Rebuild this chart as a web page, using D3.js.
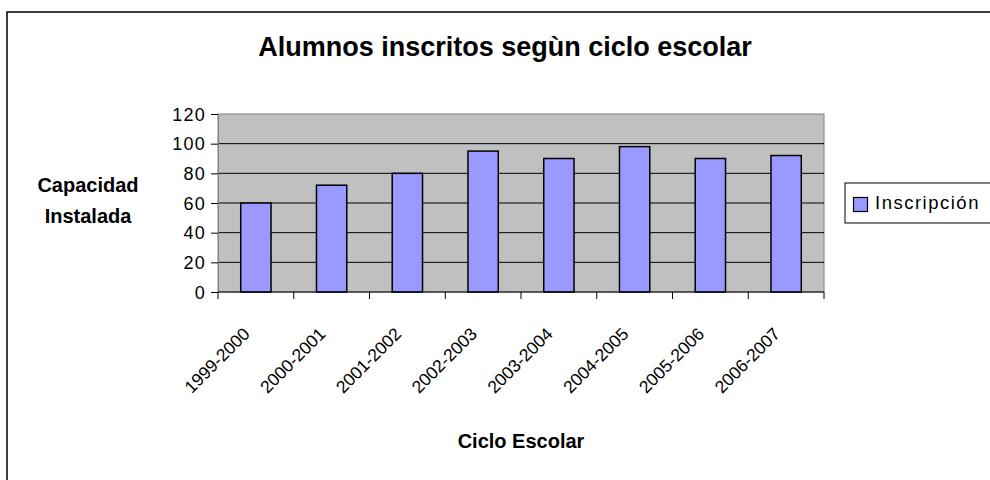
<!DOCTYPE html>
<html>
<head>
<meta charset="utf-8">
<script src="https://cdnjs.cloudflare.com/ajax/libs/d3/7.8.5/d3.min.js"></script>
<style>
    body { margin: 0; background: #fff; }
    text { font-family: "Liberation Sans", Arial, sans-serif; fill: #000; }
</style>
</head>
<body>
<div id="chart"></div>
<script>

var ciclos = ["1999-2000", "2000-2001", "2001-2002", "2002-2003", "2003-2004", "2004-2005", "2005-2006", "2006-2007"];
var inscripcion = [60, 72, 80, 95, 90, 98, 90, 92];
var yTicks = [0, 20, 40, 60, 80, 100, 120];
var titulo = "Alumnos inscritos segùn ciclo escolar";
var serieNombre = "Inscripción";

function drawChart(width, height) {

    var plot = { left: 218, right: 824, top: 114, bottom: 292 };

    var svg = d3.select("#chart").append("svg")
        .attr("width", width)
        .attr("height", height);

    // marco exterior (se sale por la derecha y por abajo)
    svg.append("rect")
        .attr("x", 7).attr("y", 12)
        .attr("width", width + 20).attr("height", height + 20)
        .attr("fill", "none")
        .attr("stroke", "#000")
        .attr("stroke-width", 1.5);

    var x = d3.scaleBand()
        .domain(ciclos)
        .range([plot.left, plot.right])
        .paddingInner(0.6)
        .paddingOuter(0.3);

    var y = d3.scaleLinear()
        .domain([0, 120])
        .range([plot.bottom, plot.top]);

    svg.append("rect")
        .attr("x", plot.left).attr("y", plot.top)
        .attr("width", plot.right - plot.left)
        .attr("height", plot.bottom - plot.top)
        .attr("fill", "#c0c0c0")
        .attr("stroke", "#808080")
        .attr("stroke-width", 1);

    // lineas de division
    svg.selectAll(".grid")
        .data(yTicks.filter(function (d) { return d > 0 && d < 120; }))
        .enter().append("line")
        .attr("class", "grid")
        .attr("x1", plot.left).attr("x2", plot.right)
        .attr("y1", function (d) { return y(d); })
        .attr("y2", function (d) { return y(d); })
        .attr("stroke", "#000")
        .attr("stroke-width", 1);

    svg.selectAll(".bar")
        .data(inscripcion)
        .enter().append("rect")
        .attr("class", "bar")
        .attr("x", function (d, i) { return x(ciclos[i]); })
        .attr("y", function (d) { return y(d); })
        .attr("width", x.bandwidth())
        .attr("height", function (d) { return y(0) - y(d); })
        .attr("fill", "#9999ff")
        .attr("stroke", "#000")
        .attr("stroke-width", 1.5);

    // eje Y
    var yAxis = svg.append("g")
        .attr("transform", "translate(" + plot.left + ",0)")
        .call(d3.axisLeft(y).tickValues(yTicks).tickSize(7).tickPadding(6));
    yAxis.select(".domain").attr("stroke", "#808080");
    yAxis.selectAll(".tick line").attr("stroke", "#000");
    yAxis.selectAll(".tick text")
        .style("font-size", "18px")
        .style("letter-spacing", "1.2px")
        .attr("x", -12)
        .attr("dy", "0.35em");

    // eje X: marcas en los limites de cada categoria
    var step = x.step();
    var bounds = ciclos.map(function (c) { return x(c) - x.paddingOuter() * step; });
    bounds.push(plot.right);

    svg.append("line")
        .attr("x1", plot.left).attr("x2", plot.right)
        .attr("y1", plot.bottom).attr("y2", plot.bottom)
        .attr("stroke", "#000").attr("stroke-width", 1.2);

    svg.selectAll(".xtick")
        .data(bounds)
        .enter().append("line")
        .attr("class", "xtick")
        .attr("x1", function (d) { return d; })
        .attr("x2", function (d) { return d; })
        .attr("y1", plot.bottom).attr("y2", plot.bottom + 7)
        .attr("stroke", "#000");

    svg.selectAll(".xlabel")
        .data(ciclos)
        .enter().append("text")
        .attr("class", "xlabel")
        .attr("text-anchor", "end")
        .style("font-size", "17.5px")
        .attr("transform", function (d) {
            var cx = x(d) + x.bandwidth() / 2;
            return "translate(" + (cx - 5) + "," + 335 + ") rotate(-45)";
        })
        .text(function (d) { return d; });

    // titulos
    svg.append("text")
        .attr("x", 505).attr("y", 56)
        .attr("text-anchor", "middle")
        .style("font-size", "27px")
        .style("font-weight", "bold")
        .text(titulo);

    svg.append("text")
        .attr("x", (plot.left + plot.right) / 2).attr("y", 448)
        .attr("text-anchor", "middle")
        .style("font-size", "20px")
        .style("font-weight", "bold")
        .text("Ciclo Escolar");

    var yTitle = svg.append("text")
        .attr("text-anchor", "middle")
        .style("font-size", "20px")
        .style("font-weight", "bold");
    yTitle.append("tspan").attr("x", 88).attr("y", 192).text("Capacidad");
    yTitle.append("tspan").attr("x", 88).attr("y", 223).text("Instalada");

    // leyenda
    var legend = svg.append("g");
    legend.append("rect")
        .attr("x", 845).attr("y", 183)
        .attr("width", 200).attr("height", 40)
        .attr("fill", "#fff")
        .attr("stroke", "#000")
        .attr("stroke-width", 1);
    legend.append("rect")
        .attr("x", 853.5).attr("y", 197.5)
        .attr("width", 14).attr("height", 14)
        .attr("fill", "#9999ff")
        .attr("stroke", "#000")
        .attr("stroke-width", 1.2);
    legend.append("text")
        .attr("x", 875).attr("y", 209)
        .style("font-size", "18.5px")
        .style("letter-spacing", "1.5px")
        .text(serieNombre);
}

drawChart(990, 480);
</script>
</body>
</html>
